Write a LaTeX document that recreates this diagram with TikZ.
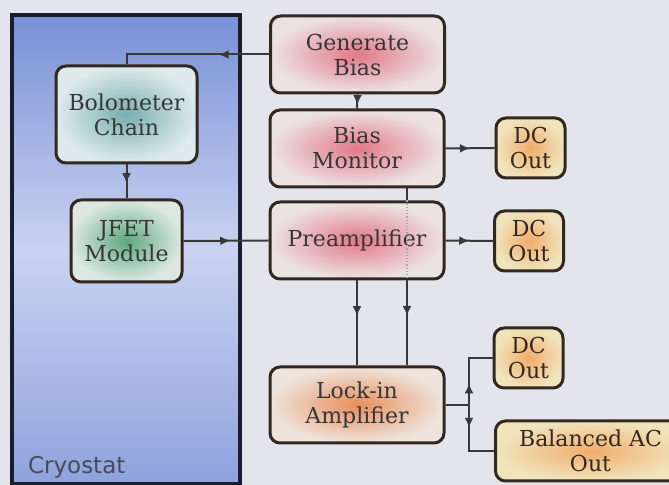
\documentclass[tikz,border=0pt]{standalone}
\usepackage{fontspec}
\setmainfont{DejaVu Serif}
\setsansfont{DejaVu Sans}
\usepackage{tikz}
\usetikzlibrary{arrows.meta,decorations.markings,backgrounds}

\definecolor{bgc}{HTML}{E4E4EC}
\definecolor{cryoline}{HTML}{1C1C30}
\definecolor{cryotop}{HTML}{7890D6}
\definecolor{cryomid}{HTML}{CAD2F0}
\definecolor{cryobot}{HTML}{8EA2DC}
\definecolor{boxline}{HTML}{33281F}
\definecolor{linec}{HTML}{383838}
\definecolor{txt}{HTML}{363636}
\definecolor{pinkin}{HTML}{E27888}
\definecolor{pinkout}{HTML}{ECE2E2}
\definecolor{orangein}{HTML}{E88E5C}
\definecolor{orangeout}{HTML}{EEE4DC}
\definecolor{dcin}{HTML}{F0AC6C}
\definecolor{dcout}{HTML}{F0E4BC}
\definecolor{bolin}{HTML}{78AEB0}
\definecolor{bolout}{HTML}{DEEAEC}
\definecolor{jfetin}{HTML}{5EA87E}
\definecolor{jfetout}{HTML}{DCE8E2}

\tikzset{
  block/.style={draw=boxline, line width=1.5pt, rounded corners=5pt, align=center,
    inner sep=0pt, text=txt, font=\fontsize{11}{12.5}\selectfont},
  biasbox/.style={block, inner color=pinkin, outer color=pinkout,
    minimum width=87pt, minimum height=38.5pt},
  lockbox/.style={block, inner color=orangein, outer color=orangeout,
    minimum width=87pt, minimum height=38pt},
  outbox/.style={block, inner color=dcin, outer color=dcout, text=boxline,
    minimum width=34.5pt, minimum height=30pt},
  link/.style={draw=linec, line width=1pt},
  midarrow/.style={postaction={decorate}, decoration={markings,
    mark=at position #1 with {\arrow{Latex[length=5pt,width=4.5pt]}}}},
}

\begin{document}
\begin{tikzpicture}[x=0.5pt,y=-0.5pt]
\useasboundingbox (0,0) rectangle (669,485);

% cryostat
\draw[cryoline, line width=2pt, top color=cryotop, bottom color=cryobot, middle color=cryomid]
  (12,15) rectangle (240,484);
\node[anchor=base west, text=cryoline!80!white, font=\sffamily\fontsize{11.5}{13}\selectfont]
  (cryo) at (21,474) {Cryostat};

% cold side
\node[block, inner color=bolin, outer color=bolout, minimum width=70.5pt, minimum height=48.5pt]
  (bolo) at (126.5,114.5) {Bolometer\\Chain};
\node[block, inner color=jfetin, outer color=jfetout, minimum width=55.5pt, minimum height=41pt]
  (jfet) at (126.5,241) {JFET\\Module};

% warm electronics
\node[biasbox] (gen) at (357.5,54.5) {Generate\\Bias};
\node[biasbox] (biasmon) at (357,148.5) {Bias\\Monitor};
\node[biasbox] (preamp) at (357,240.5) {Preamplifier};
\node[lockbox] (lockin) at (357,405) {Lock-in\\Amplifier};

% outputs
\node[outbox] (dc1) at (530.5,148) {DC\\Out};
\node[outbox] (dc2) at (529,241) {DC\\Out};
\node[outbox] (dc3) at (528.5,358) {DC\\Out};
\node[outbox, minimum width=95pt, anchor=west] (acout) at (494,451) {Balanced AC\\Out};

\coordinate (tap) at (407,0);
\coordinate (split) at (469,405);

\draw[link, midarrow=0.33] (gen.west) -| (bolo.north);
\draw[link, midarrow=0.75] (gen.south) -- (biasmon.north);
\draw[link, midarrow=0.55] (bolo.south) -- (jfet.north);
\draw[link, midarrow=0.55] (jfet.east) -- (preamp.west);
\draw[link, midarrow=0.5] (biasmon.east) -- (dc1.west);
\draw[link, midarrow=0.5] (preamp.east) -- (dc2.west);
\draw[link, midarrow=0.42] (preamp.south) -- (lockin.north);
\begin{scope}[on background layer]
\fill[bgc] (0,0) rectangle (669,485);
\draw[link, midarrow=0.72] (biasmon.south -| tap) -- (lockin.north -| tap);
\end{scope}
\draw[gray!70, densely dotted, line width=0.6pt] (preamp.north -| tap) -- (preamp.south -| tap);
\draw[link, midarrow=0.48] (lockin.east) -- (split) |- (dc3.west);
\draw[link, midarrow=0.49] (lockin.east) -- (split) |- (acout.west);
\end{tikzpicture}
\end{document}
